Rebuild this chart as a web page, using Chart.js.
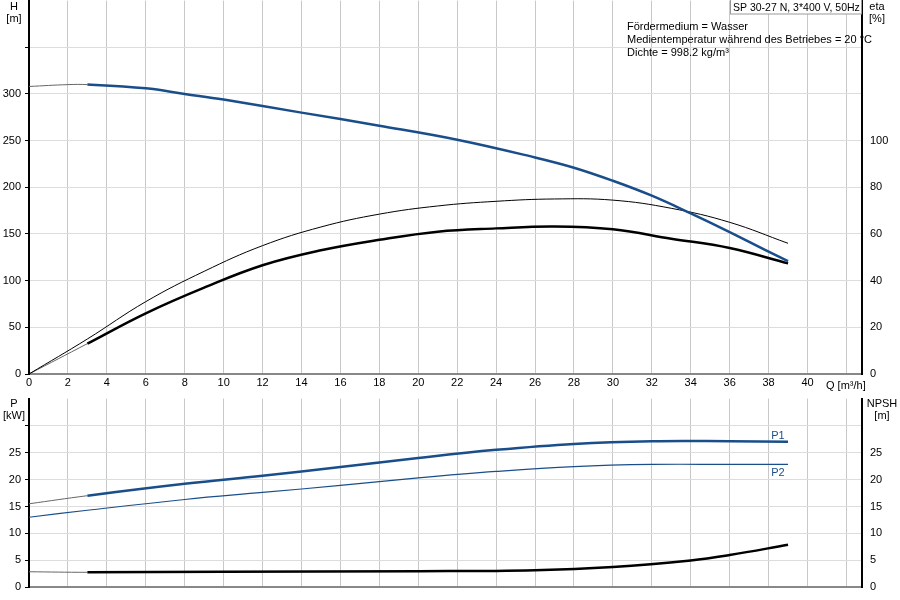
<!DOCTYPE html>
<html><head><meta charset="utf-8">
<script src="https://cdn.jsdelivr.net/npm/chart.js@4"></script>
<style>body{margin:0;background:#fff;width:900px;height:600px;position:relative;overflow:hidden;font-family:"Liberation Sans",Arial,sans-serif}
#a{position:absolute;left:0;top:-10px;width:900px;height:405px}#b{position:absolute;left:0;top:388px;width:900px;height:210px}</style>
</head><body>
<div id="a"><canvas id="c1"></canvas></div><div id="b"><canvas id="c2"></canvas></div>
<script>
const qH   = [0,2,3,6,8,10,14,18,22,26,28,30,32,34,36,38,39];
const H    = [308,310,310,306,300,294,280,266,251,232,221,207,191,172,152,131,121];
const qEta = [0,3,6,9,12,15,18,21,24,27,30,33,36,39];
const etaPump  = [0,15,31,44,55,63,68.5,72,74,75,74.5,71,65,56];
const etaTotal = [0,13,26,37,46.6,53,57.5,61,62.4,63.2,62,58,54,47.4];
const qP   = [0,3,8,12,16,20,24,28,32,36,39];
const P1   = [15.5,17,19.2,20.7,22.3,24,25.5,26.6,27.1,27.1,27];
const P2   = [13,14.3,16.3,17.6,18.9,20.3,21.5,22.4,22.8,22.8,22.8];
const qN   = [0,3,10,20,26,30,34,36,39];
const NPSH = [2.9,2.8,2.9,3.0,3.2,3.8,5.0,6.0,7.9];
const xTicks = [0,2,4,6,8,10,12,14,16,18,20,22,24,26,28,30,32,34,36,38,40,42];
const infoLines = ["Fördermedium = Wasser","Medientemperatur während des Betriebes = 20 °C","Dichte = 998.2 kg/m³"];

const pts=(xs,ys)=>xs.map((x,i)=>({x,y:ys[i]}));
const F={family:"Liberation Sans, Arial",size:11};
const seg=(thin,thick)=>({borderWidth:c=>c.p0.parsed.x<2.9?thin:thick,borderColor:c=>c.p0.parsed.x<2.9?'#666':undefined});
const ds=(data,color,w,yID,thinStart)=>({data,borderColor:color,borderWidth:w,pointRadius:0,tension:0.4,fill:false,yAxisID:yID,segment:thinStart?seg(1,w):undefined});
const xScale=(showLabels)=>({type:'linear',min:0,max:42.8,afterBuildTicks:s=>{s.ticks=xTicks.map(v=>({value:v}))},
  ticks:{display:showLabels,color:'#000',font:F,padding:2,maxRotation:0,callback:v=>v<=40?v:''},
  grid:{color:'#c8c8c8',drawTicks:false},border:{color:'#888',width:2},afterFit:s=>{s.height=showLabels?21:8}});
const yScale=(pos,min,max,step,labMax,w,show)=>({position:pos,min,max,
  afterBuildTicks:s=>{const t=[];for(let v=min;v<=max-1e-9;v+=step)t.push({value:v});s.ticks=t;},
  ticks:{display:show,color:'#000',font:F,padding:4,callback:v=>v<=labMax?v:''},
  grid:{display:pos==='left',color:'#ddd',drawTicks:true,tickLength:4,tickColor:'#000'},
  border:{color:'#000',width:2},afterFit:s=>{s.width=w}});
const textPlugin=(fn)=>({id:'t'+Math.random(),afterDraw(ch){const c=ch.ctx;c.save();c.font='11px "Liberation Sans", Arial';c.fillStyle='#000';fn(c,ch);c.restore();}});

new Chart(c1,{type:'line',data:{datasets:[
  ds(pts(qH,H),'#1a4e8a',2.5,'yH',true),
  ds(pts(qEta,etaPump),'#000',1,'yE',false),
  ds(pts(qEta,etaTotal),'#000',2.5,'yE',true)]},
 options:{animation:false,responsive:true,maintainAspectRatio:false,
  plugins:{legend:{display:false},tooltip:{enabled:false}},
  scales:{x:xScale(true),yH:yScale('left',0,400,50,300,29,true),yE:yScale('right',0,160,20,100,38,true)}},
 plugins:[textPlugin((c,ch)=>{
   const o=10;
   c.textAlign='center';c.fillText('H',14,o+10);c.fillText('[m]',14,o+22);
   c.fillText('eta',877,o+10);c.fillText('[%]',877,o+22);
   c.textAlign='left';c.fillText('Q [m³/h]',826,o+389);
   c.fillStyle='#fff';c.fillRect(730,o,132,14);c.strokeStyle='#999';c.lineWidth=1;c.strokeRect(730.5,o-1,131,15);
   c.fillStyle='#000';c.font='10.5px "Liberation Sans", Arial';c.fillText('SP 30-27 N, 3*400 V, 50Hz',733,o+11);
   c.font='11px "Liberation Sans", Arial';
   infoLines.forEach((t,i)=>c.fillText(t,627,o+30+i*13));
 })]});

new Chart(c2,{type:'line',data:{datasets:[
  ds(pts(qP,P1),'#1a4e8a',2.5,'yP',true),
  ds(pts(qP,P2),'#1a4e8a',1.2,'yP',false),
  ds(pts(qN,NPSH),'#000',2.5,'yN',true)]},
 options:{animation:false,responsive:true,maintainAspectRatio:false,
  plugins:{legend:{display:false},tooltip:{enabled:false}},
  scales:{x:xScale(false),yP:yScale('left',0,35,5,25,29,true),yN:yScale('right',0,35,5,25,38,true)}},
 plugins:[textPlugin((c,ch)=>{
   const o=7;
   c.textAlign='center';c.fillText('P',14,o+12);c.fillText('[kW]',14,o+24);
   c.fillText('NPSH',882,o+12);c.fillText('[m]',882,o+24);
   c.fillStyle='#1a4e8a';c.fillText('P1',778,o+44);c.fillText('P2',778,o+81);
 })]});
</script></body></html>
